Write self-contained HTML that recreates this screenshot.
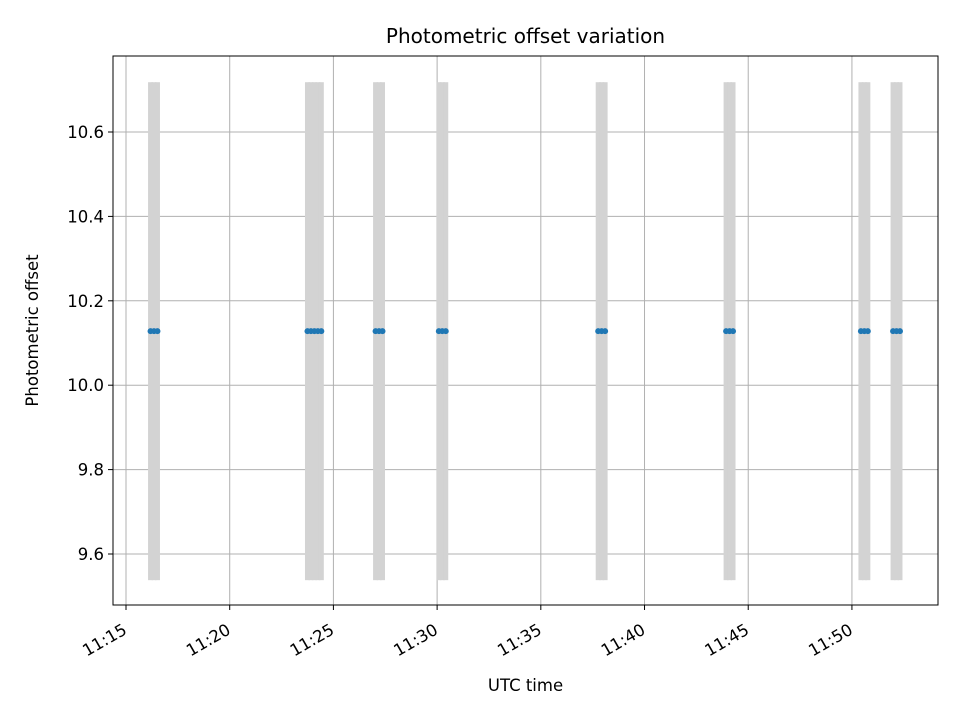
<!DOCTYPE html>
<html><head><meta charset="utf-8"><style>
html,body{margin:0;padding:0;background:#fff;}
svg text{font-family:"DejaVu Sans","Liberation Sans",sans-serif;fill:#000;}
</style></head><body>
<svg id="chart" width="960" height="720" viewBox="0 0 960 720" xmlns="http://www.w3.org/2000/svg"></svg>
<script>
const times = ["11:16:11","11:16:21","11:16:31",
 "11:23:45","11:23:55","11:24:05","11:24:15","11:24:25",
 "11:27:02","11:27:12","11:27:22",
 "11:30:05","11:30:15","11:30:25",
 "11:37:46","11:37:56","11:38:06",
 "11:43:56","11:44:06","11:44:16",
 "11:50:26","11:50:36","11:50:46",
 "11:51:59","11:52:09","11:52:19"];
const offsets = [10.128,10.128,10.128,10.128,10.128,10.128,10.128,10.128,10.128,10.128,10.128,10.128,10.128,10.128,10.128,10.128,10.128,10.128,10.128,10.128,10.128,10.128,10.128,10.128,10.128,10.128];
const errors = [0.59,0.59,0.59,0.59,0.59,0.59,0.59,0.59,0.59,0.59,0.59,0.59,0.59,0.59,0.59,0.59,0.59,0.59,0.59,0.59,0.59,0.59,0.59,0.59,0.59,0.59];
const xTickLabels = ["11:15","11:20","11:25","11:30","11:35","11:40","11:45","11:50"];
const yTickValues = [9.6,9.8,10.0,10.2,10.4,10.6];

const svg = document.getElementById('chart');
const NS = 'http://www.w3.org/2000/svg';
const L=113,R=938,T=56,B=605;
const xMin=-0.627, xMax=39.15; // minutes after 11:15
const yMin=9.6-(605-554)/422, yMax=10.6+(132-56)/422;
function mins(s){const p=s.split(':').map(Number);return (p[0]-11)*60+p[1]-15+(p[2]||0)/60;}
function xs(m){return L+(m-xMin)/(xMax-xMin)*(R-L);}
function ys(v){return B-(v-yMin)/(yMax-yMin)*(B-T);}
function el(tag,attrs,parent){const e=document.createElementNS(NS,tag);for(const k in attrs)e.setAttribute(k,attrs[k]);(parent||svg).appendChild(e);return e;}

const grid=el('g',{});


xTickLabels.forEach(t=>{const x=xs(mins(t+":00"));
  const l=el('line',{x1:x,x2:x,y1:T,y2:B,stroke:'#b0b0b0','stroke-width':1},grid);
  });
yTickValues.forEach(v=>{const y=ys(v);
  const l=el('line',{x1:L,x2:R,y1:y,y2:y,stroke:'#b0b0b0','stroke-width':1},grid);
  });

const eb=el('g',{});


times.forEach((t,i)=>{const x=xs(mins(t));
  const r=el('rect',{x:x-2.5,y:ys(offsets[i]+errors[i]),width:5,height:ys(offsets[i]-errors[i])-ys(offsets[i]+errors[i]),fill:'#d3d3d3'},eb);
  });
const pts=el('g',{});


times.forEach((t,i)=>{
  const c=el('circle',{cx:xs(mins(t)),cy:ys(offsets[i]),r:3,fill:'#1f77b4'},pts);
  });

const frame=el('rect',{x:L,y:T,width:R-L,height:B-T,fill:'none',stroke:'#000','stroke-width':1});


const xa=el('g',{});

xTickLabels.forEach(t=>{const x=xs(mins(t+":00"));
  el('line',{x1:x,x2:x,y1:B,y2:B+5,stroke:'#000'},xa);
  const ax=x+2, ay=B+28;
  const tx=el('text',{x:ax,y:ay,'font-size':16.5,'text-anchor':'end',transform:`rotate(-30 ${ax} ${ay})`},xa);
  
  tx.textContent=t;});
const ya=el('g',{});

yTickValues.forEach(v=>{const y=ys(v);
  el('line',{x1:L-5,x2:L,y1:y,y2:y,stroke:'#000'},ya);
  const tx=el('text',{x:L-9,y:y+6,'font-size':16.5,'text-anchor':'end'},ya);
  
  tx.textContent=v.toFixed(1);});

const title=el('text',{x:(L+R)/2,y:43,'font-size':20,'text-anchor':'middle'});

title.textContent='Photometric offset variation';
const xl=el('text',{x:(L+R)/2,y:691,'font-size':16.5,'text-anchor':'middle'});

xl.textContent='UTC time';
const yl=el('text',{x:38,y:(T+B)/2,'font-size':16.5,'text-anchor':'middle',transform:`rotate(-90 38 ${(T+B)/2})`});

yl.textContent='Photometric offset';
</script>
</body></html>
